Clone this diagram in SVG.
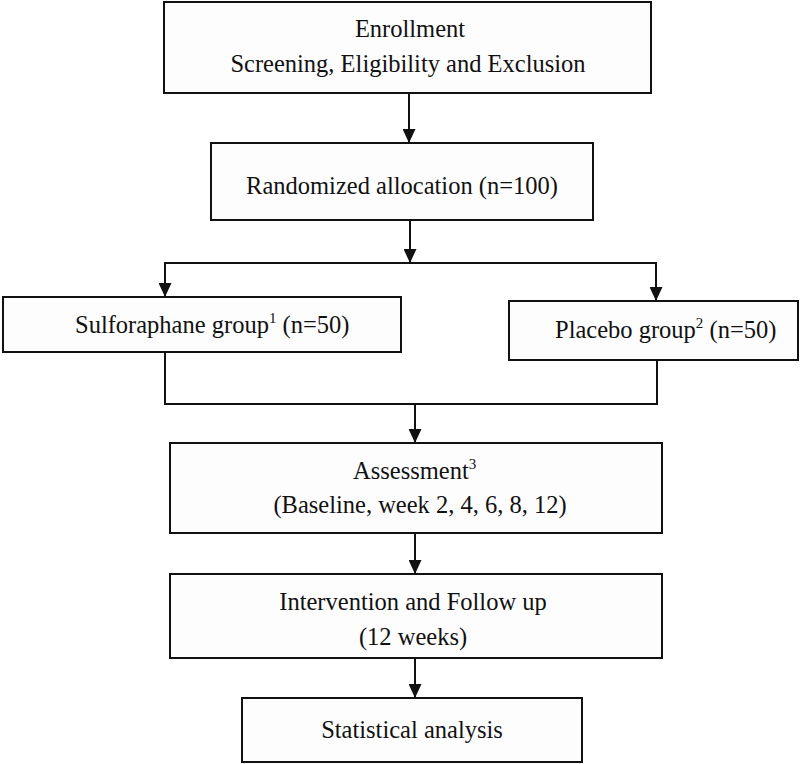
<svg xmlns="http://www.w3.org/2000/svg" width="800" height="764" viewBox="0 0 800 764">
<style>
.box{fill:#fdfdfd;stroke:#111;stroke-width:2}
.t{font-family:"Liberation Serif","Times New Roman",serif;font-size:24.5px;fill:#111;text-anchor:middle}
.ts{font-family:"Liberation Serif","Times New Roman",serif;font-size:24.5px;fill:#111}
.sup{font-size:15px}
.c{stroke:#111;stroke-width:2;fill:none}
</style>
<defs>
<marker id="ah" markerUnits="userSpaceOnUse" markerWidth="14" markerHeight="13" refX="14" refY="6.5" orient="auto">
<path d="M0,0 L14,6.5 L0,13 z" fill="#111"/>
</marker>
</defs>
<rect width="800" height="764" fill="#fff"/>
<g id="connectors">
<line class="c" x1="409" y1="93" x2="409" y2="143" marker-end="url(#ah)"/>
<line class="c" x1="410" y1="220" x2="410" y2="263" marker-end="url(#ah)"/>
<polyline class="c" points="165,297 165,263 656,263 656,301"/>
<line class="c" x1="165" y1="263" x2="165" y2="297" marker-end="url(#ah)"/>
<line class="c" x1="656" y1="263" x2="656" y2="301" marker-end="url(#ah)"/>
<polyline class="c" points="165,352 165,404 657,404 657,360"/>
<line class="c" x1="415" y1="404" x2="415" y2="443" marker-end="url(#ah)"/>
<line class="c" x1="415" y1="533" x2="415" y2="574" marker-end="url(#ah)"/>
<line class="c" x1="415" y1="658" x2="415" y2="698" marker-end="url(#ah)"/>
</g>
<g id="enrollment">
<rect class="box" x="164" y="2" width="487" height="91"/>
<text class="t" x="410" y="37">Enrollment</text>
<text class="t" x="408" y="72">Screening, Eligibility and Exclusion</text>
</g>
<g id="randomized">
<rect class="box" x="211" y="143" width="382" height="77"/>
<text class="t" x="402" y="194">Randomized allocation (n=100)</text>
</g>
<g id="sulforaphane">
<rect class="box" x="3" y="297" width="398" height="55"/>
<text class="ts" x="75" y="333">Sulforaphane group<tspan class="sup" dy="-10">1</tspan><tspan dy="10"> (n=50)</tspan></text>
</g>
<g id="placebo">
<rect class="box" x="509" y="301" width="289" height="59"/>
<text class="ts" x="555" y="338">Placebo group<tspan class="sup" dy="-10">2</tspan><tspan dy="10"> (n=50)</tspan></text>
</g>
<g id="assessment">
<rect class="box" x="170" y="443" width="492" height="90"/>
<text class="ts" x="353" y="479">Assessment<tspan class="sup" dy="-10">3</tspan></text>
<text class="t" x="420" y="513">(Baseline, week 2, 4, 6, 8, 12)</text>
</g>
<g id="intervention">
<rect class="box" x="170" y="574" width="492" height="84"/>
<text class="t" x="413" y="610">Intervention and Follow up</text>
<text class="t" x="413" y="645">(12 weeks)</text>
</g>
<g id="statistical">
<rect class="box" x="242" y="698" width="340" height="64"/>
<text class="t" x="412" y="738">Statistical analysis</text>
</g>
</svg>
